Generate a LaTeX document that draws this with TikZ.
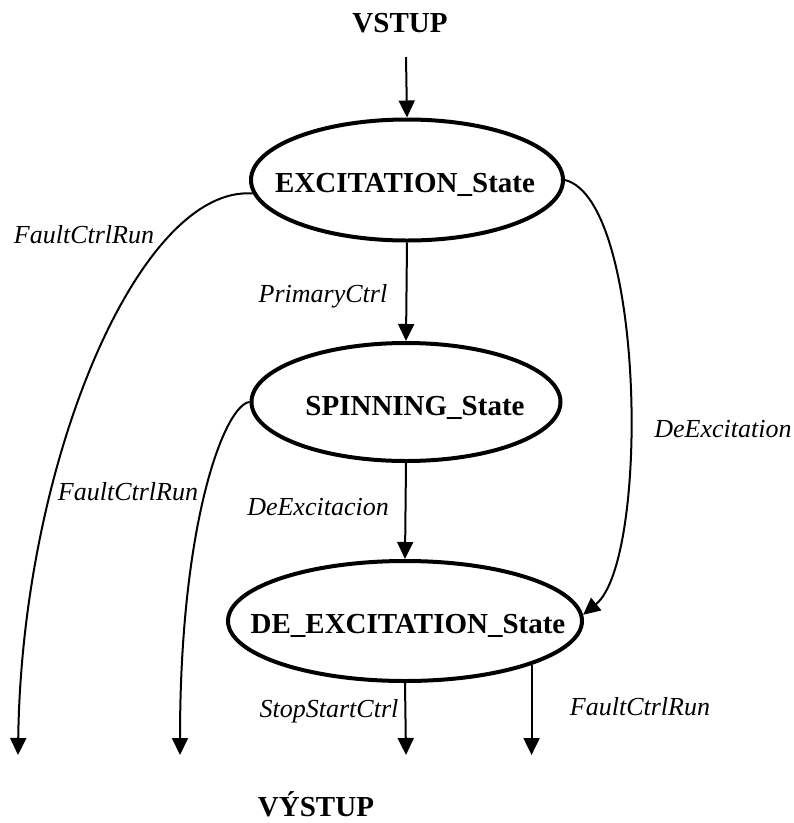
\documentclass[tikz,border=0pt]{standalone}
\usepackage{fontspec}
\setmainfont{Liberation Serif}
\usetikzlibrary{arrows.meta,shapes.geometric}
\begin{document}
\begin{tikzpicture}[x=1pt,y=-1pt,
  state/.style={ellipse,draw,line width=4pt,inner sep=0pt},
  statetext/.style={font=\fontsize{29}{34}\selectfont\bfseries,inner sep=0pt,anchor=base},
  edgelabel/.style={font=\fontsize{26}{30}\selectfont\itshape,inner sep=0pt,anchor=base},
  conn/.style={line width=2pt,-{Triangle[length=17pt,width=16pt]}}]
\useasboundingbox (0,0) rectangle (794,823);

% states
\node[state,minimum width=312pt,minimum height=121pt] (exc) at (407,180) {};
\node[state,minimum width=309pt,minimum height=118pt] (spin) at (406,402) {};
\node[state,minimum width=354pt,minimum height=120pt] (de) at (405,621) {};
\node[statetext] (exctext) at (405,192) {EXCITATION\_State};
\node[statetext] (spintext) at (415,415) {SPINNING\_State};
\node[statetext] (detext) at (408,633) {DE\_EXCITATION\_State};

% input / output titles
\node[statetext] (vstup) at (400,32) {VSTUP};
\node[statetext] (vystup) at (316,816) {VÝSTUP};

% free ends of the connectors
\coordinate (in) at (406,57);
\coordinate (o1) at (18,755);
\coordinate (o2) at (180,755);
\coordinate (o3) at (406,755);
\coordinate (o4) at (531,755);

% transitions
\draw[conn] (in) -- (exc.north);
\draw[conn] (exc.south) -- (spin.north);
\draw[conn] (spin.south) -- (de.north);
\draw[conn] (de.south) -- (o3);
\draw[conn] (de.south east) -- (de.south east |- o4);
\draw[conn] (exc.185) .. controls (140,185) and (22,460) .. (o1);
\draw[conn] (spin.west) .. controls (225,405) and (180,520) .. (o2);
\draw[conn] (exc.east) .. controls (645,200) and (650,560) .. (de.2);

% transition labels
\node[edgelabel] (l1) at (84,243) {FaultCtrlRun};
\node[edgelabel] (l2) at (323,302) {PrimaryCtrl};
\node[edgelabel] (l3) at (128,500) {FaultCtrlRun};
\node[edgelabel] (l4) at (318,515) {DeExcitacion};
\node[edgelabel] (l5) at (723,437) {DeExcitation};
\node[edgelabel] (l6) at (329,717) {StopStartCtrl};
\node[edgelabel] (l7) at (640,715) {FaultCtrlRun};
\end{tikzpicture}
\end{document}
